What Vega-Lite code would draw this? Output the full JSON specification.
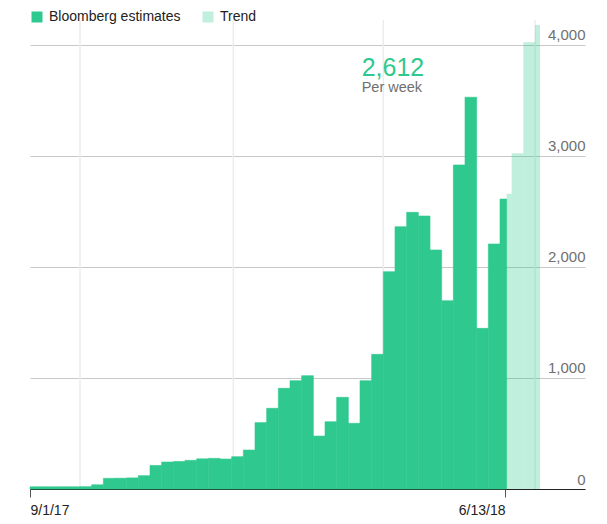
{
  "$schema": "https://vega.github.io/schema/vega-lite/v6.json",
  "width": 555,
  "height": 469,
  "autosize": {"type": "none"},
  "padding": {"left": 30, "top": 20, "right": 22, "bottom": 35},
  "background": "white",
  "config": {
    "view": {"stroke": null},
    "font": "Liberation Sans"
  },
  "datasets": {
    "bars": [
      {"start": "2017-09-01", "end": "2017-09-03", "value": 20, "series": "Bloomberg estimates"},
      {"start": "2017-09-03", "end": "2017-09-10", "value": 20, "series": "Bloomberg estimates"},
      {"start": "2017-09-10", "end": "2017-09-17", "value": 20, "series": "Bloomberg estimates"},
      {"start": "2017-09-17", "end": "2017-09-24", "value": 20, "series": "Bloomberg estimates"},
      {"start": "2017-09-24", "end": "2017-10-01", "value": 20, "series": "Bloomberg estimates"},
      {"start": "2017-10-01", "end": "2017-10-08", "value": 21, "series": "Bloomberg estimates"},
      {"start": "2017-10-08", "end": "2017-10-15", "value": 38, "series": "Bloomberg estimates"},
      {"start": "2017-10-15", "end": "2017-10-22", "value": 96, "series": "Bloomberg estimates"},
      {"start": "2017-10-22", "end": "2017-10-29", "value": 97, "series": "Bloomberg estimates"},
      {"start": "2017-10-29", "end": "2017-11-05", "value": 100, "series": "Bloomberg estimates"},
      {"start": "2017-11-05", "end": "2017-11-12", "value": 120, "series": "Bloomberg estimates"},
      {"start": "2017-11-12", "end": "2017-11-19", "value": 212, "series": "Bloomberg estimates"},
      {"start": "2017-11-19", "end": "2017-11-26", "value": 243, "series": "Bloomberg estimates"},
      {"start": "2017-11-26", "end": "2017-12-03", "value": 248, "series": "Bloomberg estimates"},
      {"start": "2017-12-03", "end": "2017-12-10", "value": 258, "series": "Bloomberg estimates"},
      {"start": "2017-12-10", "end": "2017-12-17", "value": 272, "series": "Bloomberg estimates"},
      {"start": "2017-12-17", "end": "2017-12-24", "value": 276, "series": "Bloomberg estimates"},
      {"start": "2017-12-24", "end": "2017-12-31", "value": 270, "series": "Bloomberg estimates"},
      {"start": "2017-12-31", "end": "2018-01-07", "value": 291, "series": "Bloomberg estimates"},
      {"start": "2018-01-07", "end": "2018-01-14", "value": 351, "series": "Bloomberg estimates"},
      {"start": "2018-01-14", "end": "2018-01-21", "value": 598, "series": "Bloomberg estimates"},
      {"start": "2018-01-21", "end": "2018-01-28", "value": 727, "series": "Bloomberg estimates"},
      {"start": "2018-01-28", "end": "2018-02-04", "value": 907, "series": "Bloomberg estimates"},
      {"start": "2018-02-04", "end": "2018-02-11", "value": 976, "series": "Bloomberg estimates"},
      {"start": "2018-02-11", "end": "2018-02-18", "value": 1021, "series": "Bloomberg estimates"},
      {"start": "2018-02-18", "end": "2018-02-25", "value": 477, "series": "Bloomberg estimates"},
      {"start": "2018-02-25", "end": "2018-03-04", "value": 606, "series": "Bloomberg estimates"},
      {"start": "2018-03-04", "end": "2018-03-11", "value": 826, "series": "Bloomberg estimates"},
      {"start": "2018-03-11", "end": "2018-03-18", "value": 592, "series": "Bloomberg estimates"},
      {"start": "2018-03-18", "end": "2018-03-25", "value": 976, "series": "Bloomberg estimates"},
      {"start": "2018-03-25", "end": "2018-04-01", "value": 1213, "series": "Bloomberg estimates"},
      {"start": "2018-04-01", "end": "2018-04-08", "value": 1958, "series": "Bloomberg estimates"},
      {"start": "2018-04-08", "end": "2018-04-15", "value": 2363, "series": "Bloomberg estimates"},
      {"start": "2018-04-15", "end": "2018-04-22", "value": 2492, "series": "Bloomberg estimates"},
      {"start": "2018-04-22", "end": "2018-04-29", "value": 2459, "series": "Bloomberg estimates"},
      {"start": "2018-04-29", "end": "2018-05-06", "value": 2153, "series": "Bloomberg estimates"},
      {"start": "2018-05-06", "end": "2018-05-13", "value": 1696, "series": "Bloomberg estimates"},
      {"start": "2018-05-13", "end": "2018-05-20", "value": 2919, "series": "Bloomberg estimates"},
      {"start": "2018-05-20", "end": "2018-05-27", "value": 3529, "series": "Bloomberg estimates"},
      {"start": "2018-05-27", "end": "2018-06-03", "value": 1447, "series": "Bloomberg estimates"},
      {"start": "2018-06-03", "end": "2018-06-10", "value": 2207, "series": "Bloomberg estimates"},
      {"start": "2018-06-10", "end": "2018-06-14", "value": 2612, "series": "Bloomberg estimates"},
      {"start": "2018-06-14", "end": "2018-06-17", "value": 2660, "series": "Trend"},
      {"start": "2018-06-17", "end": "2018-06-24", "value": 3025, "series": "Trend"},
      {"start": "2018-06-24", "end": "2018-07-01", "value": 4024, "series": "Trend"},
      {"start": "2018-07-01", "end": "2018-07-04", "value": 4180, "series": "Trend"}
    ],
    "quarters": [
      {"date": "2017-10-01"},
      {"date": "2018-01-01"},
      {"date": "2018-04-01"},
      {"date": "2018-07-01"}
    ],
    "note": [
      {"date": "2018-03-19", "value": 3718, "label": "2,612"}
    ],
    "note2": [
      {"date": "2018-03-19", "value": 3580, "label": "Per week"}
    ]
  },
  "layer": [
    {
      "data": {"name": "quarters"},
      "mark": {"type": "rule", "color": "#ececec", "strokeWidth": 1.5},
      "encoding": {
        "x": {"field": "date", "type": "temporal"}
      }
    },
    {
      "data": {"name": "bars"},
      "mark": {"type": "bar", "stroke": "#2fc98f", "orient": "vertical"},
      "encoding": {
        "x": {
          "field": "start",
          "type": "temporal",
          "title": null,
          "scale": {
            "type": "utc",
            "padding": 0,
            "nice": false,
            "domain": [
              {"year": 2017, "month": 9, "date": 1, "utc": true},
              {"year": 2018, "month": 7, "date": 31, "utc": true}
            ]
          },
          "axis": {
            "values": [
              {"year": 2017, "month": 9, "date": 1, "utc": true},
              {"year": 2018, "month": 6, "date": 13, "utc": true}
            ],
            "labelExpr": "utcFormat(datum.value, '%-m/%-d/%y')",
            "grid": false,
            "domainColor": "#222222",
            "domainWidth": 1.2,
            "tickColor": "#555555",
            "tickSize": 8,
            "tickWidth": 1,
            "labelFontSize": 14,
            "labelColor": "#222222",
            "labelPadding": 6,
            "labelFlush": false,
            "labelOverlap": false,
            "labelAlign": {"condition": {"test": "datum.value < 1514764800000", "value": "left"}, "value": "right"}
          }
        },
        "x2": {"field": "end"},
        "y": {
          "field": "value",
          "type": "quantitative",
          "title": null,
          "scale": {"domain": [0, 4225], "nice": false, "zero": true},
          "axis": {
            "orient": "right",
            "values": [0, 1000, 2000, 3000, 4000],
            "format": ",d",
            "domain": false,
            "ticks": false,
            "tickSize": 0,
            "grid": true,
            "gridColor": "#c8c8c8",
            "gridWidth": 1,
            "labelAlign": "right",
            "labelBaseline": "alphabetic",
            "labelOffset": -5,
            "labelPadding": 0,
            "labelFontSize": 15,
            "labelColor": "#707070",
            "labelFlush": false
          }
        },
        "y2": {"datum": 0},
        "color": {
          "field": "series",
          "type": "nominal",
          "scale": {"domain": ["Bloomberg estimates", "Trend"], "range": ["#2fc98f", "#2fc98f"]},
          "legend": {
            "title": null,
            "orient": "none",
            "direction": "horizontal",
            "legendX": 0,
            "legendY": -10,
            "symbolType": "square",
            "symbolSize": 121,
            "symbolStrokeWidth": 0,
            "labelFontSize": 14,
            "labelColor": "#222222",
            "labelOffset": 5,
            "columnPadding": 20,
            "padding": 0,
            "symbolOffset": 0
          }
        },
        "opacity": {
          "field": "series",
          "type": "nominal",
          "scale": {"domain": ["Bloomberg estimates", "Trend"], "range": [1, 0.3]}
        },
        "strokeWidth": {
          "condition": {"test": "datum.series == 'Trend'", "value": 0},
          "value": 0.6
        }
      }
    },
    {
      "data": {"name": "note"},
      "mark": {"type": "text", "align": "left", "baseline": "alphabetic", "fontSize": 25, "color": "#2fc98f"},
      "encoding": {
        "x": {"field": "date", "type": "temporal"},
        "y": {"field": "value", "type": "quantitative"},
        "text": {"field": "label"}
      }
    },
    {
      "data": {"name": "note2"},
      "mark": {"type": "text", "align": "left", "baseline": "alphabetic", "fontSize": 14.5, "color": "#707070"},
      "encoding": {
        "x": {"field": "date", "type": "temporal"},
        "y": {"field": "value", "type": "quantitative"},
        "text": {"field": "label"}
      }
    }
  ]
}
